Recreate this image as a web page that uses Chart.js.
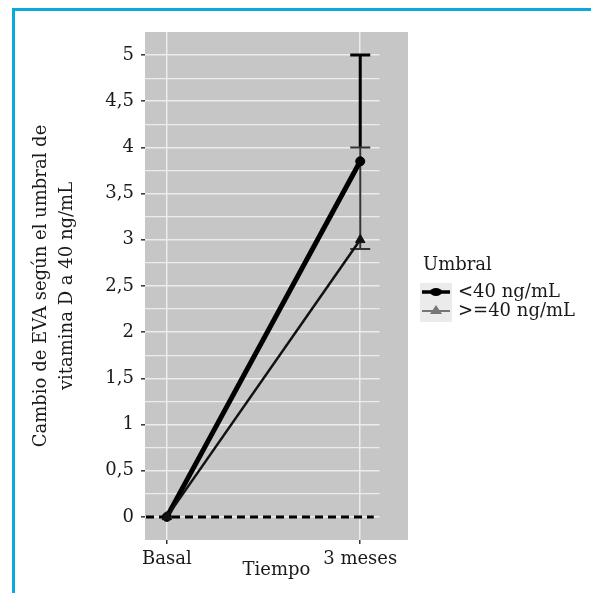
<!DOCTYPE html>
<html>
<head>
<meta charset="utf-8">
<script src="https://cdn.jsdelivr.net/npm/chart.js@4.4.1/dist/chart.umd.min.js"></script>
<style>
  html, body { margin: 0; padding: 0; background: #fff; }
  #wrap { position: relative; width: 591px; height: 593px; overflow: hidden; }
  #frame { position: absolute; left: 12px; top: 8px; width: 620px; height: 620px;
    border-left: 3px solid #0aa8df; border-top: 3px solid #0aa8df; pointer-events: none; }
</style>
</head>
<body>
<div id="wrap">
  <canvas id="chart" width="591" height="593"></canvas>
  <div id="frame"></div>
</div>
<script>
// data
const categories = ["Basal", "3 meses"];
const seriesNames = ["<40 ng/mL", ">=40 ng/mL"];
const below40 = [0, 3.85];
const above40 = [0, 3.0];
const below40ErrLow = [null, 4.0];
const below40ErrHigh = [null, 5.0];
const above40ErrLow = [null, 2.9];
const above40ErrHigh = [null, 4.0];
const yTickValues = [0, 0.5, 1, 1.5, 2, 2.5, 3, 3.5, 4, 4.5, 5];
const yTickLabels = ["0", "0,5", "1", "1,5", "2", "2,5", "3", "3,5", "4", "4,5", "5"];
const refLineY = 0;

const FONT = "'DejaVu Serif', serif";
const PANEL = "#c6c6c6";
const GRID = "#ececec";

const toPoints = (vals) => vals.map((v, i) => ({ x: i, y: v }));

function isMajor(v) {
  return yTickValues.some((t) => Math.abs(t - v) < 1e-6);
}

const panelPlugin = {
  id: "panel",
  beforeDraw(chart) {
    const { ctx, chartArea: a } = chart;
    ctx.save();
    ctx.fillStyle = PANEL;
    ctx.fillRect(a.left, a.top, a.right - a.left, a.bottom - a.top);
    ctx.restore();
  },
  beforeDatasetsDraw(chart) {
    const { ctx, chartArea: a, scales } = chart;
    const x = scales.x, y = scales.y;
    // horizontal grid stops short of the panel edge
    const gridEnd = x.getPixelForValue(1.1);
    ctx.save();
    ctx.fillStyle = PANEL;
    ctx.fillRect(gridEnd, a.top, a.right - gridEnd, a.bottom - a.top);

    // dashed reference line
    const y0 = y.getPixelForValue(refLineY);
    ctx.strokeStyle = "#000";
    ctx.lineWidth = 3;
    ctx.setLineDash([8, 5]);
    ctx.beginPath();
    ctx.moveTo(a.left + 1, y0);
    ctx.lineTo(x.getPixelForValue(1.07), y0);
    ctx.stroke();
    ctx.setLineDash([]);

    // error bars (thick one first, thin one over it)
    const bars = [
      { lo: below40ErrLow, hi: below40ErrHigh, w: 3, color: "#000", lowCap: false },
      { lo: above40ErrLow, hi: above40ErrHigh, w: 2, color: "#333", lowCap: true },
    ];
    bars.forEach((b) => {
      b.lo.forEach((lo, i) => {
        if (lo === null) return;
        const px = x.getPixelForValue(i);
        const pLo = y.getPixelForValue(lo);
        const pHi = y.getPixelForValue(b.hi[i]);
        ctx.strokeStyle = b.color;
        ctx.lineWidth = b.w;
        ctx.beginPath();
        ctx.moveTo(px, pLo);
        ctx.lineTo(px, pHi);
        if (b.lowCap) {
          ctx.moveTo(px - 10, pLo);
          ctx.lineTo(px + 10, pLo);
        }
        ctx.moveTo(px - 10, pHi);
        ctx.lineTo(px + 10, pHi);
        ctx.stroke();
      });
    });
    ctx.restore();
  },
  afterDraw(chart) {
    const { ctx } = chart;
    const lx = 420, tx = 458;
    ctx.save();
    ctx.fillStyle = "#1a1a1a";
    ctx.font = "18px " + FONT;
    ctx.textBaseline = "middle";
    ctx.textAlign = "left";
    ctx.fillText("Umbral", 423, 265);

    const keys = [
      { y: 292, line: "#000", lw: 3.5, style: "circle", label: seriesNames[0] },
      { y: 311, line: "#777", lw: 2, style: "triangle", label: seriesNames[1] },
    ];
    ctx.fillStyle = "#ebebeb";
    ctx.fillRect(lx, 283, 32, 39);
    keys.forEach((k) => {
      ctx.strokeStyle = k.line;
      ctx.lineWidth = k.lw;
      ctx.beginPath();
      ctx.moveTo(lx + 2, k.y);
      ctx.lineTo(lx + 30, k.y);
      ctx.stroke();
      ctx.fillStyle = k.line;
      ctx.beginPath();
      if (k.style === "circle") {
        ctx.ellipse(lx + 16, k.y, 6, 4, 0, 0, Math.PI * 2);
      } else {
        ctx.moveTo(lx + 16, k.y - 6);
        ctx.lineTo(lx + 22, k.y + 3);
        ctx.lineTo(lx + 10, k.y + 3);
        ctx.closePath();
      }
      ctx.fill();
      ctx.fillStyle = "#1a1a1a";
      ctx.fillText(k.label, tx, k.y);
    });
    ctx.restore();
  },
};

new Chart(document.getElementById("chart").getContext("2d"), {
  type: "line",
  data: {
    datasets: [
      {
        label: seriesNames[1],
        data: toPoints(above40),
        borderColor: "#111",
        backgroundColor: "#111",
        borderWidth: 2.5,
        pointStyle: "triangle",
        pointRadius: 5.5,
        pointBorderWidth: 1,
      },
      {
        label: seriesNames[0],
        data: toPoints(below40),
        borderColor: "#000",
        backgroundColor: "#000",
        borderWidth: 5,
        pointStyle: "circle",
        pointRadius: 4.5,
        pointBorderWidth: 1,
      },
    ],
  },
  options: {
    responsive: false,
    animation: false,
    layout: { padding: { top: 32, right: 183, bottom: 0, left: 0 } },
    plugins: { legend: { display: false }, tooltip: { enabled: false } },
    scales: {
      x: {
        type: "linear",
        min: -0.113,
        max: 1.247,
        afterBuildTicks: (s) => {
          s.ticks = categories.map((c, i) => ({ value: i }));
        },
        afterFit: (s) => { s.height = 53; },
        border: { display: false },
        grid: { color: GRID, lineWidth: 1.5, tickColor: "#333", tickLength: 4, tickWidth: 1.5 },
        ticks: {
          autoSkip: false,
          padding: 5,
          color: "#1a1a1a",
          font: { family: FONT, size: 18 },
          callback: (v) => categories[v],
        },
        title: {
          display: true,
          text: "Tiempo",
          color: "#1a1a1a",
          font: { family: FONT, size: 18 },
          padding: { top: 0, bottom: 12 },
        },
      },
      y: {
        min: -0.25,
        max: 5.25,
        afterBuildTicks: (s) => {
          // major ticks plus the minor lines halfway between them
          const all = [];
          yTickValues.forEach((t, i) => {
            if (i === 0) all.push(t - 0.25);
            all.push(t, t + 0.25);
          });
          s.ticks = all.map((v) => ({ value: v }));
        },
        afterFit: (s) => { s.width = 145; },
        border: { display: false },
        grid: {
          color: (c) => (c.tick && (c.tick.value < -0.1 || c.tick.value > 5.1)) ? "rgba(0,0,0,0)" : GRID,
          lineWidth: (c) => (c.tick && isMajor(c.tick.value) ? 1.6 : 1.2),
          tickColor: (c) => (c.tick && isMajor(c.tick.value) ? "#333" : "rgba(0,0,0,0)"),
          tickLength: 4,
          tickWidth: 1.5,
        },
        ticks: {
          autoSkip: false,
          padding: 7,
          color: "#1a1a1a",
          font: { family: FONT, size: 18 },
          callback: (v) => {
            const i = yTickValues.findIndex((t) => Math.abs(t - v) < 1e-6);
            return i >= 0 ? yTickLabels[i] : "";
          },
        },
        title: {
          display: true,
          text: ["Cambio de EVA según el umbral de", "vitamina D a 40 ng/mL"],
          color: "#1a1a1a",
          font: { family: FONT, size: 18, lineHeight: 1.45 },
          padding: { top: 28, bottom: 0 },
        },
      },
    },
  },
  plugins: [panelPlugin],
});
</script>
</body>
</html>
